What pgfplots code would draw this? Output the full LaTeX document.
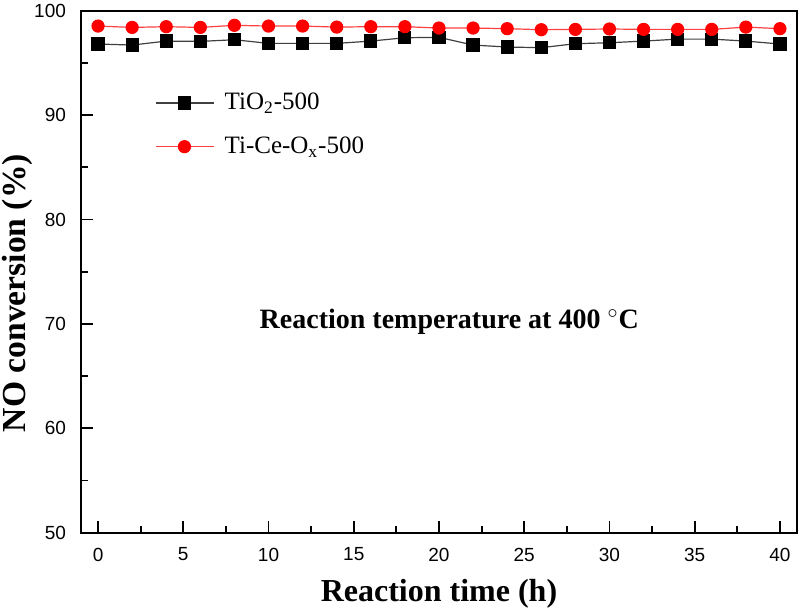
\documentclass[border=0pt]{standalone}
\usepackage{fontspec}
\setmainfont{Liberation Serif}
\setsansfont{Liberation Sans}
\usepackage{pgfplots}
\pgfplotsset{compat=1.18}
\begin{document}
\begin{tikzpicture}
\useasboundingbox (-40.5pt,-39.65pt) rectangle (359.5pt,266.35pt);
\begin{axis}[
  scale only axis,
  width=358pt, height=261pt,
  xmin=-1, xmax=41, ymin=50, ymax=100,
  xtick={0,5,...,40}, ytick={50,60,...,100},
  minor x tick num=1, minor y tick num=1,
  tick align=inside, tick pos=left,
  major tick length=6pt, minor tick length=3.5pt,
  axis line style={line width=1pt},
  every tick/.style={line width=0.9pt, black},
  ticklabel style={font=\sffamily\fontsize{9.5}{11}\selectfont},
  /pgf/number format/assume math mode=true,
  xticklabel style={yshift=-4pt},
  yticklabel style={xshift=-4pt},
  xlabel={\bfseries Reaction time (h)},
  ylabel={\bfseries NO conversion (\%)},
  label style={font=\fontsize{16}{19}\selectfont},
  xlabel style={yshift=-2pt},
  every axis y label/.style={at={(rel axis cs:0,0.459)}, xshift=-32pt, rotate=90, anchor=center, font=\fontsize{16.8}{19}\selectfont},
  legend style={draw=none, fill=none, at={(0.095,0.858)}, anchor=north west,
    font=\fontsize{12.5}{15}\selectfont, row sep=8pt},
  legend cell align=left,
  legend image code/.code={\draw[mark repeat=2,mark phase=2] plot coordinates {(0cm,0cm)(0.5cm,0cm)(1.02cm,0cm)}; \path (1.02cm+3pt,0);},
]
\addplot[black!75, line width=0.6pt, mark=square*, mark size=3pt, mark options={fill=black, draw=black, solid}] coordinates {
(0,96.81)(2,96.71)(4,97.09)(6,97.06)(8,97.22)(10,96.87)(12,96.87)(14,96.87)(16,97.09)(18,97.41)(20,97.45)
(22,96.71)(24,96.52)(26,96.46)(28,96.84)(30,96.93)(32,97.09)(34,97.28)(36,97.28)(38,97.09)(40,96.81)};
\addlegendentry{TiO\textsubscript{2}-500}
\addplot[red!75, line width=0.6pt, mark=*, mark size=3pt, mark options={fill=red, draw=red, solid}] coordinates {
(0,98.53)(2,98.40)(4,98.47)(6,98.40)(8,98.60)(10,98.53)(12,98.53)(14,98.43)(16,98.47)(18,98.47)(20,98.34)
(22,98.34)(24,98.28)(26,98.18)(28,98.21)(30,98.25)(32,98.21)(34,98.21)(36,98.21)(38,98.43)(40,98.28)};
\addlegendentry{Ti-Ce-O\textsubscript{x}-500}
\node[font=\bfseries\fontsize{14}{17}\selectfont] at (axis cs:20.6,70.2) {Reaction temperature at 400 $^\circ$C};
\end{axis}
\end{tikzpicture}
\end{document}
